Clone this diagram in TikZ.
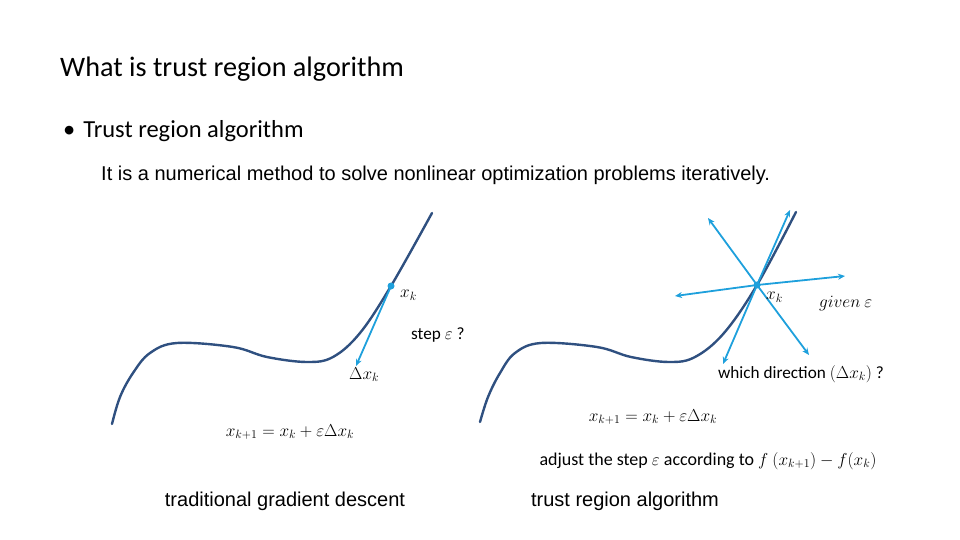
\documentclass[tikz,border=0pt]{standalone}
\usepackage{fontspec}
\setmainfont{Carlito}
\newfontfamily\arialfont{Liberation Sans}
\usepackage{amsmath}
\usetikzlibrary{arrows.meta,positioning}

\definecolor{curvenavy}{RGB}{47,80,128}
\definecolor{arrowblue}{RGB}{30,160,220}

\begin{document}
\begin{tikzpicture}[x=1pt, y=-1pt,
    curveline/.style={draw=curvenavy, line width=2.4pt, line cap=round},
    dirarrow/.style={-{Stealth[length=7pt, width=6pt]}, draw=arrowblue, line width=1.8pt},
    mathlabel/.style={font=\fontsize{17.5}{20}\selectfont, inner sep=1pt},
    slidetext/.style={font=\fontsize{17.2}{20}\selectfont, inner sep=0pt},
    caption/.style={font=\arialfont\fontsize{20}{23}\selectfont, inner sep=0pt}
]
\useasboundingbox (0,0) rectangle (960,540);

% headings
\node[anchor=base west, inner sep=0pt, font=\fontsize{28.2}{32}\selectfont] (title) at (60,77) {What is trust region algorithm};
\node[anchor=base west, inner sep=0pt, font=\fontsize{24.5}{28}\selectfont] (bullet) at (63,138) {\textbullet\hspace{8pt}Trust region algorithm};
\node[anchor=base west, inner sep=0pt, font=\arialfont\fontsize{20}{23}\selectfont] (intro) at (101,180) {It is a numerical method to solve nonlinear optimization problems iteratively.};

% left: traditional gradient descent
\draw[curveline] plot[smooth, tension=0.6] coordinates {(112,424) (120,397) (133,373) (150,353) (177,343) (233,347) (267,357) (307,362) (333,357) (360,333) (391,286) (432,213)};
\coordinate (xkL) at (391,286);
\coordinate (stepL) at (356,366);
\draw[dirarrow] (xkL) -- (stepL);
\fill[arrowblue] (xkL) circle (3.5pt);
\node[mathlabel, anchor=west] (xkLlabel) at (399,295) {$x_k$};
\node[slidetext, anchor=west] (stepq) at (411,335) {step $\varepsilon$ ?};
\node[mathlabel, below right=0pt and -8pt of stepL] (dxL) {$\Delta x_k$};
\node[mathlabel] (updL) at (290,432) {$x_{k+1} = x_k + \varepsilon \Delta x_k$};
\node[caption] (capL) at (285,501) {traditional gradient descent};

% right: trust region algorithm
\draw[curveline] plot[smooth, tension=0.6] coordinates {(480,422) (488,397) (500,373) (515,353) (541,343) (597,347) (631,357) (669,362) (695,357) (724,333) (757,285) (796,212)};
\coordinate (xkR) at (757,285);
\coordinate (dirA) at (708,218);
\coordinate (dirB) at (809,355);
\coordinate (dirC) at (675,296);
\coordinate (dirD) at (845,276);
\coordinate (dirE) at (790,210);
\coordinate (dirF) at (723,364);
\foreach \d in {dirA,dirB,dirC,dirD,dirE,dirF}
    \draw[dirarrow] (xkR) -- (\d);
\fill[arrowblue] (xkR) circle (3.5pt);
\node[mathlabel, anchor=west] (xkRlabel) at (765,297) {$x_k$};
\node[mathlabel, anchor=west] (given) at (818,304) {$given\ \varepsilon$};
\node[slidetext] (whichdir) at (801,374) {which direction $(\Delta x_k)$ ?};
\node[mathlabel] (updR) at (653,417) {$x_{k+1} = x_k + \varepsilon \Delta x_k$};
\node[slidetext, font=\fontsize{18}{21}\selectfont] (adjust) at (708,461) {adjust the step $\varepsilon$ according to $f\ (x_{k+1}) - f(x_k)$};
\node[caption] (capR) at (625,501) {trust region algorithm};
\end{tikzpicture}
\end{document}
